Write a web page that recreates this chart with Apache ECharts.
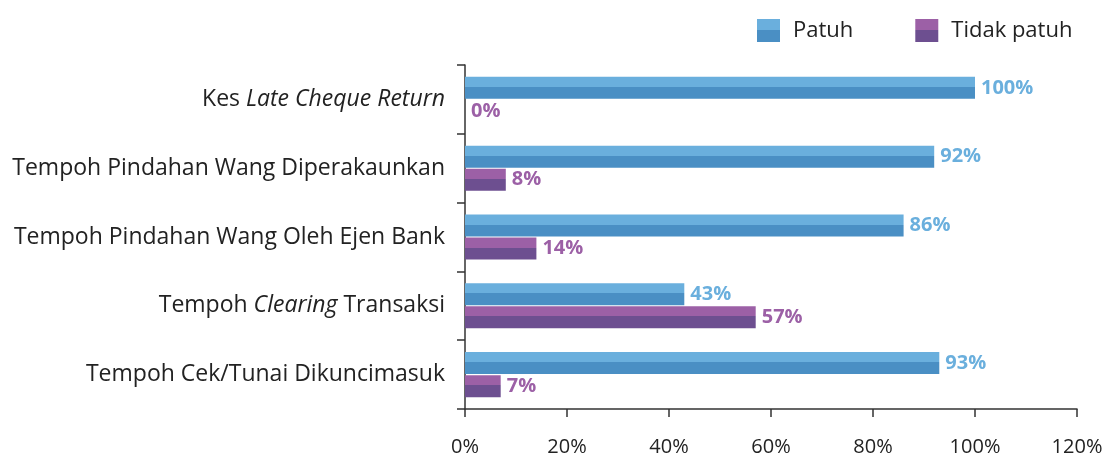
<!DOCTYPE html>
<html>
<head>
<meta charset="utf-8">
<script src="https://cdn.jsdelivr.net/npm/echarts@6/dist/echarts.min.js"></script>
<style>
    html, body { margin: 0; padding: 0; background: #fff; }
    #chart { width: 1109px; height: 457px; }
</style>
</head>
<body>
<div id="chart"></div>
<script>
// kategori dari atas ke bawah
var categories = [
    "Kes {i|Late Cheque Return}",
    "Tempoh Pindahan Wang Diperakaunkan",
    "Tempoh Pindahan Wang Oleh Ejen Bank",
    "Tempoh {i|Clearing} Transaksi",
    "Tempoh Cek/Tunai Dikuncimasuk"
];
var patuh = [100, 92, 86, 43, 93];
var tidakPatuh = [0, 8, 14, 57, 7];
var xTicks = [0, 20, 40, 60, 80, 100, 120];

var fontName = '"Open Sans", Lato, sans-serif';

function split(light, dark) {
    return new echarts.graphic.LinearGradient(0, 0, 0, 1, [
        { offset: 0, color: light },
        { offset: 0.46, color: light },
        { offset: 0.46, color: dark },
        { offset: 1, color: dark }
    ]);
}

var myChart = echarts.init(document.getElementById('chart'));
myChart.setOption({
    animation: false,
    textStyle: { fontFamily: fontName },
    legend: {
        left: 752,
        top: 14,
        itemWidth: 23,
        itemHeight: 23,
        itemGap: 62,
        icon: 'rect',
        textStyle: { fontSize: 22, color: '#222', fontFamily: fontName, padding: [0, 0, 0, 8] },
        data: ['Patuh', 'Tidak patuh']
    },
    grid: { left: 465, right: 32, top: 65, bottom: 47, containLabel: false },
    xAxis: {
        type: 'value',
        min: xTicks[0],
        max: xTicks[xTicks.length - 1],
        interval: 20,
        splitLine: { show: false },
        axisLine: { show: true, lineStyle: { color: '#333', width: 1.5 } },
        axisTick: { show: true, length: 8, lineStyle: { color: '#333', width: 1.5 } },
        axisLabel: {
            margin: 28,
            fontSize: 20,
            color: '#222',
            formatter: '{value}%'
        }
    },
    yAxis: {
        type: 'category',
        inverse: true,
        data: categories,
        axisLine: { show: true, lineStyle: { color: '#333', width: 1.5 } },
        axisTick: { show: true, length: 8, lineStyle: { color: '#333', width: 1.5 } },
        axisLabel: {
            margin: 20,
            fontSize: 23,
            color: '#222',
            rich: {
                i: { fontSize: 23, color: '#222', fontStyle: 'italic', fontFamily: fontName }
            }
        }
    },
    series: [{
        name: 'Patuh',
        type: 'bar',
        data: patuh,
        barWidth: 22,
        barGap: '5%',
        barCategoryGap: '36%',
        itemStyle: { color: split('#6AAFDD', '#4A8FC4') },
        label: {
            show: true,
            position: 'right',
            distance: 6,
            formatter: '{c}%',
            fontSize: 20,
            fontWeight: 'bold',
            color: '#6AAFDD'
        }
    }, {
        name: 'Tidak patuh',
        type: 'bar',
        data: tidakPatuh,
        barWidth: 22,
        itemStyle: { color: split('#9C60A6', '#6D4F90') },
        label: {
            show: true,
            position: 'right',
            distance: 6,
            formatter: '{c}%',
            fontSize: 20,
            fontWeight: 'bold',
            color: '#9C60A6'
        }
    }]
});
</script>
</body>
</html>
